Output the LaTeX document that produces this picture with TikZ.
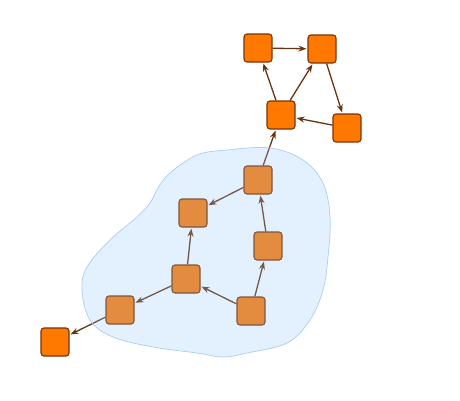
\documentclass[tikz,border=0pt]{standalone}
\usetikzlibrary{arrows.meta}
\definecolor{sqfill}{HTML}{FF7800}
\definecolor{sqdraw}{HTML}{7A3200}
\definecolor{edgec}{HTML}{6A3410}
\definecolor{blobc}{RGB}{144,196,252}
\definecolor{blobline}{HTML}{A8CFF0}
\tikzset{
  sq/.style={rectangle, rounded corners=3pt, minimum size=28pt, inner sep=0pt,
    fill=sqfill, draw=sqdraw, line width=1.1pt},
  edge/.style={draw=edgec, line width=1.3pt, shorten >=1pt,
    -{Stealth[length=8pt,width=6pt]}}
}
\begin{document}
\begin{tikzpicture}[x=1pt,y=-1pt]
\useasboundingbox (0,0) rectangle (460,400);
\node[sq] (A) at (258,48) {};
\node[sq] (B) at (322,49) {};
\node[sq] (C) at (347,128) {};
\node[sq] (D) at (281,115) {};
\node[sq] (E) at (258,180) {};
\node[sq] (F) at (193,213) {};
\node[sq] (G) at (268,246) {};
\node[sq] (H) at (186,279) {};
\node[sq] (I) at (251,311) {};
\node[sq] (J) at (120,310) {};
\node[sq] (K) at (55,342) {};
\draw[edge] (A) -- (B);
\draw[edge] (B) -- (C);
\draw[edge] (C) -- (D);
\draw[edge] (D) -- (A);
\draw[edge] (D) -- (B);
\draw[edge] (E) -- (D);
\draw[edge] (E) -- (F);
\draw[edge] (G) -- (E);
\draw[edge] (H) -- (F);
\draw[edge] (I) -- (H);
\draw[edge] (I) -- (G);
\draw[edge] (H) -- (J);
\draw[edge] (J) -- (K);
\path[fill=blobc, fill opacity=0.25, draw=blobline, line width=0.7pt]
  plot[smooth cycle, tension=0.6] coordinates {
    (197,155) (227,150) (270,148) (303,160) (323,183) (330,217) (328,257)
    (323,290) (310,320) (287,343) (247,353) (223,357) (197,353) (153,347)
    (113,337) (90,320) (82,290) (87,267) (110,240) (137,217) (150,203)
    (158,188) (170,173)};
\end{tikzpicture}
\end{document}
